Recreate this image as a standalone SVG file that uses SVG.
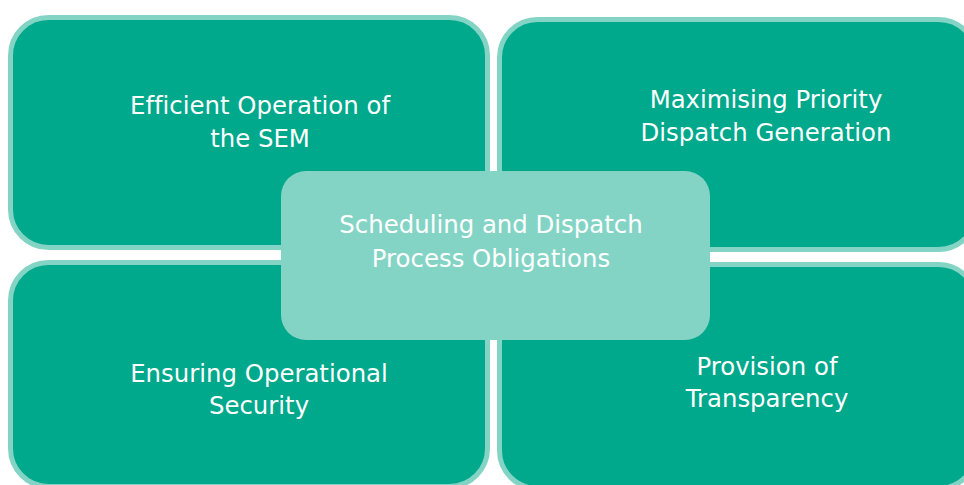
<svg xmlns="http://www.w3.org/2000/svg" width="964" height="485" viewBox="0 0 964 485">
<style>
.box{fill:#00A88C;stroke:#84D4C5;stroke-width:5}
.center{fill:#84D4C6;stroke:none}
text{font-family:"DejaVu Sans",sans-serif;font-size:24.4px;fill:#FFFFFF;text-anchor:middle;font-variant-ligatures:none}
</style>
<rect width="964" height="485" fill="#FFFFFF"/>
<g id="node-efficient">
<rect class="box" x="10.5" y="17.5" width="477" height="230" rx="38"/>
<text x="260" y="114">Efficient Operation of</text>
<text x="260" y="147">the SEM</text>
</g>
<g id="node-maximising">
<rect class="box" x="499.5" y="19.5" width="477" height="230" rx="38"/>
<text x="766" y="108">Maximising Priority</text>
<text x="766" y="141">Dispatch Generation</text>
</g>
<g id="node-ensuring">
<rect class="box" x="10.5" y="262.5" width="477" height="224" rx="38"/>
<text x="259" y="382">Ensuring Operational</text>
<text x="259" y="414">Security</text>
</g>
<g id="node-transparency">
<rect class="box" x="499.5" y="264.5" width="477" height="224" rx="38"/>
<text x="767" y="375">Provision of</text>
<text x="767" y="407">Transparency</text>
</g>
<g id="node-center">
<rect class="center" x="281" y="171" width="429" height="169" rx="25"/>
<text x="491" y="233">Scheduling and Dispatch</text>
<text x="491" y="267">Process Obligations</text>
</g>
<g id="connectors"></g>
</svg>
